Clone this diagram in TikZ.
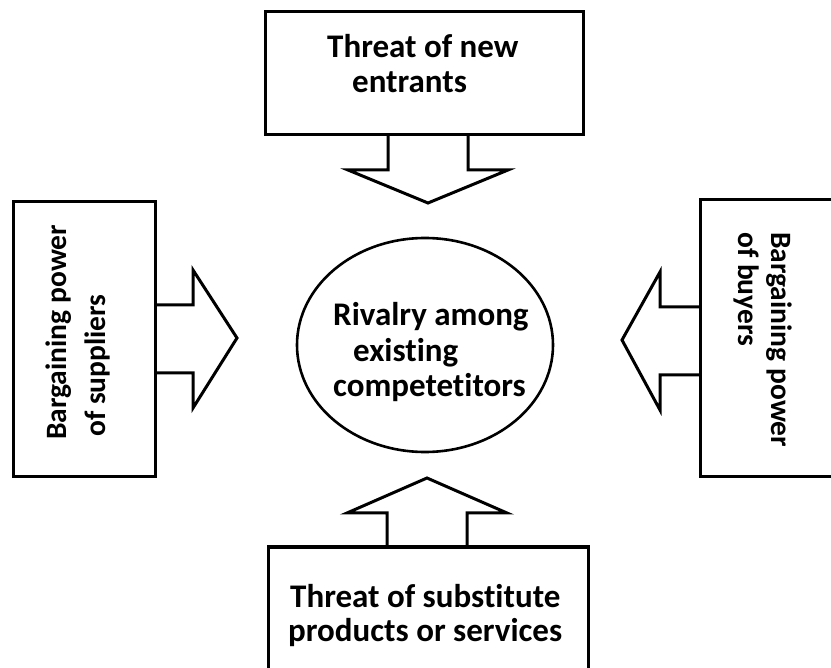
\documentclass[tikz,border=0pt]{standalone}
\usepackage{fontspec}
\setmainfont{Carlito}[Ligatures=NoCommon]
\usetikzlibrary{shapes.geometric}
\begin{document}
\begin{tikzpicture}[x=1pt,y=-1pt,
  box/.style={draw, line width=3pt, rectangle, inner sep=0pt},
  blockarrow/.style={draw, line width=3pt, line join=miter},
  circ/.style={draw, line width=2.6pt, ellipse, inner sep=0pt},
  lbl/.style={font=\bfseries\fontsize{33}{35}\selectfont, inner sep=0pt},
  vlbl/.style={font=\bfseries\fontsize{29.5}{33}\selectfont, inner sep=0pt}]
\useasboundingbox (0,0) rectangle (831,668);
\clip (0,0) rectangle (831,668);
\fill[white] (0,0) rectangle (831,668);
% boxes
\node[box, minimum width=318pt, minimum height=123pt] (top) at (424,73.5) {};
\node[box, minimum width=142pt, minimum height=275pt] (left) at (84,339.5) {};
\node[box, minimum width=160pt, minimum height=277pt] (right) at (780,338.5) {};
\node[box, minimum width=320pt, minimum height=140pt] (bottom) at (428,617) {};
\node[circ, minimum width=256pt, minimum height=214pt] (rival) at (425,345) {};
% block arrows
\draw[blockarrow] (388,135) -- (388,170) -- (348,170) -- (428,203) -- (508,170) -- (468,170) -- (468,135);
\draw[blockarrow] (155,305) -- (193,305) -- (193,270) -- (237,338) -- (193,408) -- (193,373) -- (155,373);
\draw[blockarrow] (700,307) -- (660,307) -- (660,272) -- (622,340) -- (660,410) -- (660,375) -- (700,375);
\draw[blockarrow] (387,547) -- (387,513) -- (347,513) -- (427,478) -- (507,513) -- (467,513) -- (467,547);
% texts
\node[lbl, anchor=base west] (t1) at (327,58) {Threat of new};
\node[lbl, anchor=base west] (t2) at (352,93) {entrants};
\node[lbl, anchor=base west] (r1) at (333,326) {Rivalry among};
\node[lbl, anchor=base west] (r2) at (353,362) {existing};
\node[lbl, anchor=base west] (r3) at (333,397) {competetitors};
\node[lbl, anchor=base west] (b1) at (290,607) {Threat of substitute};
\node[lbl, anchor=base west] (b2) at (288,641) {products or services};
\node[vlbl, anchor=base west, rotate=90] (s1) at (66,440) {Bargaining power};
\node[vlbl, anchor=base west, rotate=90] (s2) at (105,437) {of suppliers};
\node[vlbl, anchor=base west, rotate=-90] (y1) at (771,232) {Bargaining power};
\node[vlbl, anchor=base west, rotate=-90] (y2) at (738,232) {of buyers};
\end{tikzpicture}
\end{document}
